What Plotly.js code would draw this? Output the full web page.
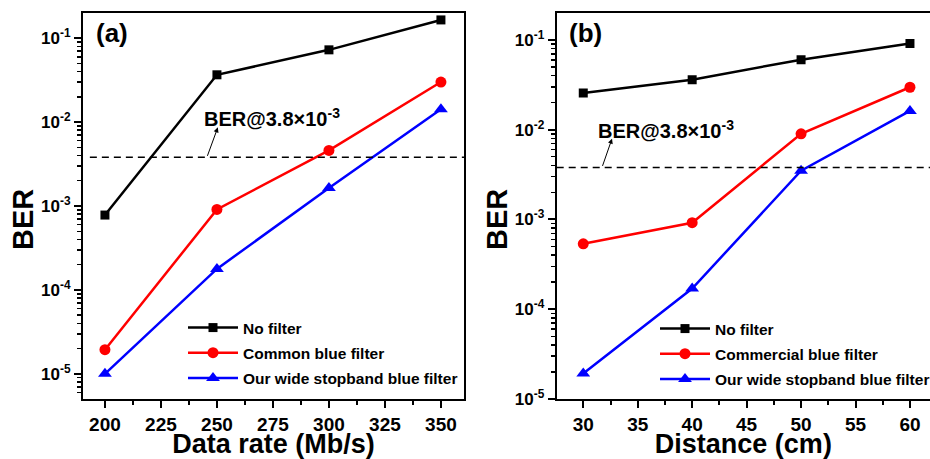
<!DOCTYPE html>
<html>
<head>
<meta charset="utf-8">
<script src="https://cdn.plot.ly/plotly-3.0.1.min.js"></script>
<style>html,body{margin:0;padding:0;background:#fff;}#chart{width:930px;height:459px;}</style>
</head>
<body>
<div id="chart"></div>
<script>
// ---- Data ----
const rateX = [200, 250, 300, 350];
const rateNoFilter = [7.8e-4, 0.0366, 0.0726, 0.165];
const rateCommon = [1.94e-5, 9.1e-4, 4.6e-3, 0.030];
const rateOurs = [1.0e-5, 1.78e-4, 1.64e-3, 0.0142];

const distX = [30, 40, 50, 60];
const distNoFilter = [0.0257, 0.0361, 0.0603, 0.091];
const distCommercial = [5.36e-4, 9.2e-4, 9.0e-3, 0.0297];
const distOurs = [1.92e-5, 1.70e-4, 3.49e-3, 0.0162];

const berThreshold = 3.8e-3;
const rateTicks = [200, 225, 250, 275, 300, 325, 350];
const distTicks = [30, 35, 40, 45, 50, 55, 60];
const yTickVals = [1e-5, 1e-4, 1e-3, 1e-2, 1e-1];
const yTickText = ['10<sup>-5</sup>', '10<sup>-4</sup>', '10<sup>-3</sup>', '10<sup>-2</sup>', '10<sup>-1</sup>'];
const namesA = ['No filter', 'Common blue filter', 'Our wide stopband blue filter'];
const namesB = ['No filter', 'Commercial blue filter', 'Our wide stopband blue filter'];

// ---- Styling ----
const FONT = 'Arial, "Liberation Sans", sans-serif';
const colors = ['#000000', '#ff0000', '#0000ff'];
const symbols = ['square', 'circle', 'triangle-up'];
const msizes = [9, 11, 12];

const minorLog = [];
for (let e = -6; e <= 0; e++) for (let m = 2; m <= 9; m++) minorLog.push(m * Math.pow(10, e));

function mk(x, y, i, name, xa, ya, lg) {
  return {
    x: x, y: y, name: name, type: 'scatter', mode: 'lines+markers',
    xaxis: xa, yaxis: ya, legend: lg, legendgroup: lg + i,
    line: {color: colors[i], width: 2.5},
    marker: {color: colors[i], symbol: symbols[i], size: msizes[i]}
  };
}

const traces = [
  mk(rateX, rateNoFilter, 0, namesA[0], 'x', 'y', 'legend'),
  mk(rateX, rateCommon, 1, namesA[1], 'x', 'y', 'legend'),
  mk(rateX, rateOurs, 2, namesA[2], 'x', 'y', 'legend'),
  mk(distX, distNoFilter, 0, namesB[0], 'x2', 'y2', 'legend2'),
  mk(distX, distCommercial, 1, namesB[1], 'x2', 'y2', 'legend2'),
  mk(distX, distOurs, 2, namesB[2], 'x2', 'y2', 'legend2')
];

function xAxis(domain, range, ticks, minorStep, title, anchor) {
  return {
    domain: domain, range: range, anchor: anchor,
    tickmode: 'array', tickvals: ticks,
    ticks: 'outside', ticklen: 7, tickwidth: 2, tickcolor: '#000',
    minor: {tick0: ticks[0], dtick: minorStep, ticks: 'outside', ticklen: 4, tickwidth: 2, tickcolor: '#000'},
    showline: true, linecolor: '#000', linewidth: 2, mirror: true,
    showgrid: false, zeroline: false,
    tickfont: {family: FONT, size: 19, color: '#000', weight: 'bold'},
    title: {text: title, font: {family: FONT, size: 27, color: '#000', weight: 'bold'}, standoff: 6},
    automargin: false
  };
}
function yAxis(domain, range, anchor) {
  return {
    domain: domain, type: 'log', range: range, anchor: anchor,
    tickmode: 'array', tickvals: yTickVals, ticktext: yTickText,
    ticks: 'outside', ticklen: 7, tickwidth: 2, tickcolor: '#000',
    minor: {tickmode: 'array', tickvals: minorLog, ticks: 'outside', ticklen: 4, tickwidth: 1.5, tickcolor: '#000'},
    showline: true, linecolor: '#000', linewidth: 2, mirror: true,
    showgrid: false, zeroline: false,
    tickfont: {family: FONT, size: 17, color: '#000', weight: 'bold'},
    automargin: false
  };
}

const W = 930, H = 459;
const yDom = [(H - 399) / H, (H - 13) / H];

const annFont = {family: FONT, size: 20, color: '#000', weight: 'bold'};
const berTitleFont = {family: FONT, size: 29, color: '#000', weight: 'bold'};
const legFont = {family: FONT, size: 15.5, color: '#000', weight: 'bold'};
const layout = {
  width: W, height: H,
  margin: {l: 0, r: 0, t: 0, b: 0, autoexpand: false},
  paper_bgcolor: '#fff', plot_bgcolor: '#fff',
  showlegend: true,
  xaxis: xAxis([83 / W, 464 / W], [190.2, 360.3], rateTicks, 12.5, 'Data rate (Mb/s)', 'y'),
  yaxis: yAxis(yDom, [-5.3, -0.7], 'x'),
  xaxis2: xAxis([556.7 / W, 1], [27.56, 61.84], distTicks, 2.5, 'Distance (cm)', 'y2'),
  yaxis2: yAxis(yDom, [-5, -0.7], 'x2'),
  legend: {
    x: 183 / W, y: (H - 311) / H, xanchor: 'left', yanchor: 'top',
    bgcolor: 'rgba(0,0,0,0)', borderwidth: 0, traceorder: 'grouped', tracegroupgap: 2,
    itemwidth: 50, font: legFont
  },
  legend2: {
    x: 655 / W, y: (H - 312) / H, xanchor: 'left', yanchor: 'top',
    bgcolor: 'rgba(0,0,0,0)', borderwidth: 0, traceorder: 'grouped', tracegroupgap: 2,
    itemwidth: 50, font: legFont
  },
  shapes: [
    {type: 'line', xref: 'x domain', yref: 'y', x0: 0.018, x1: 1, y0: berThreshold, y1: berThreshold,
     line: {color: '#000', width: 1.5, dash: '7px,5px'}},
    {type: 'line', xref: 'x2 domain', yref: 'y2', x0: 0, x1: 1, y0: berThreshold, y1: berThreshold,
     line: {color: '#000', width: 1.5, dash: '7px,5px'}}
  ],
  annotations: [
    {xref: 'paper', yref: 'paper', x: 23 / W, y: (H - 220) / H, xanchor: 'center', yanchor: 'middle',
     text: 'BER', textangle: -90, showarrow: false, font: berTitleFont},
    {xref: 'paper', yref: 'paper', x: 497 / W, y: (H - 220) / H, xanchor: 'center', yanchor: 'middle',
     text: 'BER', textangle: -90, showarrow: false, font: berTitleFont},
    {xref: 'x', yref: 'y', x: 274.6, y: -1.944, text: 'BER@3.8×10<sup>-3</sup>', showarrow: false, font: annFont},
    {xref: 'x', yref: 'y', x: 250.4, y: -2.063, axref: 'x', ayref: 'y', ax: 245.5, ay: Math.log10(berThreshold),
     text: '', showarrow: true, arrowhead: 2, arrowsize: 1, arrowwidth: 1, arrowcolor: '#000', standoff: 0, startstandoff: 0},
    {xref: 'x2', yref: 'y2', x: 37.6, y: -2.0, text: 'BER@3.8×10<sup>-3</sup>', showarrow: false, font: annFont},
    {xref: 'x2', yref: 'y2', x: 32.64, y: -2.10, axref: 'x2', ayref: 'y2', ax: 31.72, ay: Math.log10(berThreshold),
     text: '', showarrow: true, arrowhead: 2, arrowsize: 1, arrowwidth: 1, arrowcolor: '#000', standoff: 0, startstandoff: 0},
    {xref: 'x', yref: 'y', x: 203.1, y: -0.94, text: '(a)', showarrow: false,
     font: {family: FONT, size: 26, color: '#000', weight: 'bold'}},
    {xref: 'x2', yref: 'y2', x: 30.16, y: -0.925, text: '(b)', showarrow: false,
     font: {family: FONT, size: 26, color: '#000', weight: 'bold'}}
  ]
};

Plotly.newPlot('chart', traces, layout, {displayModeBar: false, staticPlot: true});
</script>
</body>
</html>
